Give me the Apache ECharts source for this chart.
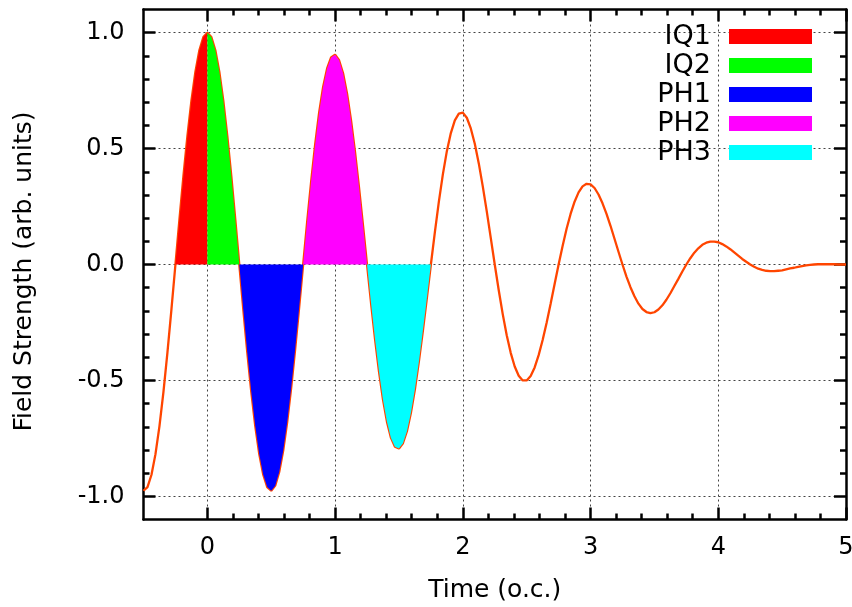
<!DOCTYPE html>
<html><head><meta charset="utf-8">
<script src="https://cdn.jsdelivr.net/npm/echarts@6/dist/echarts.min.js"></script>
<style>html,body{margin:0;padding:0;background:#fff}#c{width:852px;height:607px}</style>
</head><body><div id="c"></div>
<script>
// Time samples (optical cycles)
const timeOC = [
  -0.5, -0.46875, -0.4375, -0.40625, -0.375, -0.34375, -0.3125, -0.28125, -0.25, -0.21875, -0.1875, -0.15625, -0.125, -0.09375, -0.0625, -0.03125,
  0, 0.03125, 0.0625, 0.09375, 0.125, 0.15625, 0.1875, 0.21875, 0.25, 0.28125, 0.3125, 0.34375, 0.375, 0.40625, 0.4375, 0.46875, 0.5, 0.53125, 0.5625, 0.59375, 0.625, 0.65625, 0.6875, 0.71875, 0.75, 0.78125, 0.8125, 0.84375, 0.875, 0.90625, 0.9375, 0.96875,
  1, 1.03125, 1.0625, 1.09375, 1.125, 1.15625, 1.1875, 1.21875, 1.25, 1.28125, 1.3125, 1.34375, 1.375, 1.40625, 1.4375, 1.46875, 1.5, 1.53125, 1.5625, 1.59375, 1.625, 1.65625, 1.6875, 1.71875, 1.75, 1.78125, 1.8125, 1.84375, 1.875, 1.90625, 1.9375, 1.96875,
  2, 2.03125, 2.0625, 2.09375, 2.125, 2.15625, 2.1875, 2.21875, 2.25, 2.28125, 2.3125, 2.34375, 2.375, 2.40625, 2.4375, 2.46875, 2.5, 2.53125, 2.5625, 2.59375, 2.625, 2.65625, 2.6875, 2.71875, 2.75, 2.78125, 2.8125, 2.84375, 2.875, 2.90625, 2.9375, 2.96875,
  3, 3.03125, 3.0625, 3.09375, 3.125, 3.15625, 3.1875, 3.21875, 3.25, 3.28125, 3.3125, 3.34375, 3.375, 3.40625, 3.4375, 3.46875, 3.5, 3.53125, 3.5625, 3.59375, 3.625, 3.65625, 3.6875, 3.71875, 3.75, 3.78125, 3.8125, 3.84375, 3.875, 3.90625, 3.9375, 3.96875,
  4, 4.03125, 4.0625, 4.09375, 4.125, 4.15625, 4.1875, 4.21875, 4.25, 4.28125, 4.3125, 4.34375, 4.375, 4.40625, 4.4375, 4.46875, 4.5, 4.53125, 4.5625, 4.59375, 4.625, 4.65625, 4.6875, 4.71875, 4.75, 4.78125, 4.8125, 4.84375, 4.875, 4.90625, 4.9375, 4.96875,
  5];
// Field strength (arb. units)
const fieldStrength = [
  -0.976, -0.960, -0.907, -0.818, -0.697, -0.549, -0.379, -0.194, 0, 0.194, 0.381, 0.554, 0.706, 0.831, 0.924, 0.981,
  1.0, 0.981, 0.924, 0.831, 0.706, 0.554, 0.381, 0.194, 0, -0.194, -0.379, -0.549, -0.697, -0.818, -0.907, -0.960, -0.976, -0.954, -0.895, -0.803, -0.680, -0.532, -0.365, -0.185, 0, 0.184, 0.358, 0.517, 0.655, 0.766, 0.846, 0.893,
  0.905, 0.881, 0.825, 0.737, 0.622, 0.485, 0.332, 0.168, 0, -0.165, -0.321, -0.462, -0.583, -0.679, -0.748, -0.786, -0.794, -0.771, -0.719, -0.640, -0.538, -0.418, -0.285, -0.144, 0, 0.140, 0.271, 0.389, 0.489, 0.567, 0.622, 0.651,
  0.655, 0.633, 0.587, 0.521, 0.436, 0.337, 0.229, 0.115, 0, -0.111, -0.214, -0.305, -0.381, -0.440, -0.480, -0.500, -0.500, -0.481, -0.444, -0.391, -0.326, -0.251, -0.169, -0.084, 0, 0.080, 0.154, 0.218, 0.271, 0.311, 0.337, 0.348,
  0.346, 0.330, 0.302, 0.264, 0.218, 0.167, 0.111, 0.055, 0, -0.052, -0.098, -0.137, -0.169, -0.192, -0.205, -0.210, -0.206, -0.194, -0.176, -0.152, -0.124, -0.093, -0.062, -0.030, 0, 0.027, 0.051, 0.070, 0.085, 0.094, 0.099, 0.099,
  0.096, 0.088, 0.078, 0.066, 0.052, 0.038, 0.024, 0.012, 0, -0.010, -0.018, -0.023, -0.027, -0.029, -0.029, -0.027, -0.025, -0.021, -0.017, -0.014, -0.010, -0.007, -0.004, -0.002, 0, 0.001, 0.001, 0.001, 0.001, 0.001, 0, 0,
  0];

const regionNames = ['IQ1', 'IQ2', 'PH1', 'PH2', 'PH3'];
const regionStart = [-0.25, 0, 0.25, 0.75, 1.25];
const regionEnd = [0, 0.25, 0.75, 1.25, 1.75];
const regionColors = ['#ff0000', '#00ff00', '#0000ff', '#ff00ff', '#00ffff'];

const xMajorTicks = [0, 1, 2, 3, 4, 5];
const xMinorTicks = [0.2, 0.4, 0.6, 0.8, 1.2, 1.4, 1.6, 1.8, 2.2, 2.4, 2.6, 2.8, 3.2, 3.4, 3.6, 3.8, 4.2, 4.4, 4.6, 4.8];
const yMajorTicks = [-1, -0.5, 0, 0.5, 1];
const yMinorTicks = [-0.9, -0.8, -0.7, -0.6, -0.4, -0.3, -0.2, -0.1, 0.1, 0.2, 0.3, 0.4, 0.6, 0.7, 0.8, 0.9];

const FONT = 'DejaVu Sans';
const curveData = timeOC.map((t, i) => [t, fieldStrength[i]]);

const fillSeries = regionNames.map((name, r) => ({
  type: 'line', name: name, smooth: false, showSymbol: false, silent: true, z: 3,
  color: regionColors[r],
  itemStyle: { color: regionColors[r], borderWidth: 0 },
  lineStyle: { width: 0 },
  areaStyle: { color: regionColors[r], opacity: 1 },
  data: curveData.filter(p => p[0] >= regionStart[r] - 1e-9 && p[0] <= regionEnd[r] + 1e-9)
}));

function xAx(pos, ticks, len, major, label) {
  return {
    type: 'value', position: pos, min: -0.5, max: 5,
    axisLine: { show: major, onZero: false, lineStyle: { color: '#000', width: 2.5 } },
    axisTick: { show: true, inside: true, length: len, customValues: ticks, lineStyle: { color: '#000', width: 2.5 } },
    axisLabel: label ? { show: true, customValues: ticks, margin: 16, fontSize: 24, fontFamily: FONT, color: '#000', formatter: v => String(v) } : { show: false },
    splitLine: label ? { show: true, lineStyle: { color: '#444', width: 1, type: [2, 3] } } : { show: false },
    name: label ? 'Time (o.c.)' : '', nameLocation: 'middle', nameGap: 58,
    nameTextStyle: { fontSize: 25, fontFamily: FONT, color: '#000' }
  };
}
function yAx(pos, ticks, len, major, label) {
  return {
    type: 'value', position: pos, min: -1.1, max: 1.1,
    axisLine: { show: major, onZero: false, lineStyle: { color: '#000', width: 2.5 } },
    axisTick: { show: true, inside: true, length: len, customValues: ticks, lineStyle: { color: '#000', width: 2.5 } },
    axisLabel: label ? { show: true, customValues: ticks, margin: 19, fontSize: 24, fontFamily: FONT, color: '#000', formatter: v => v.toFixed(1) } : { show: false },
    splitLine: label ? { show: true, lineStyle: { color: '#444', width: 1, type: [2, 3] } } : { show: false },
    name: label ? 'Field Strength (arb. units)' : '', nameLocation: 'middle', nameGap: 107,
    nameTextStyle: { fontSize: 25, fontFamily: FONT, color: '#000', padding: [0, 14, 0, 0] }
  };
}

const chart = echarts.init(document.getElementById('c'), null, { renderer: 'canvas' });
chart.setOption({
  animation: false,
  backgroundColor: '#fff',
  grid: { left: 143.5, right: 6, top: 9.5, bottom: 87.5, outerBoundsMode: 'none', containLabel: false },
  legend: {
    data: regionNames, orient: 'vertical', right: 40, top: 23, padding: 0, itemGap: 2,
    itemWidth: 83, itemHeight: 15, align: 'right', icon: 'rect', selectedMode: false,
    itemStyle: { borderWidth: 0 },
    textStyle: { fontFamily: FONT, fontSize: 27, color: '#000', padding: [0, 13, 0, 0] }
  },
  xAxis: [
    xAx('bottom', xMajorTicks, 12, true, true),
    xAx('bottom', xMinorTicks, 6, false, false),
    xAx('top', xMajorTicks, 12, true, false),
    xAx('top', xMinorTicks, 6, false, false)
  ],
  yAxis: [
    yAx('left', yMajorTicks, 12, true, true),
    yAx('left', yMinorTicks, 6, false, false),
    yAx('right', yMajorTicks, 12, true, false),
    yAx('right', yMinorTicks, 6, false, false)
  ],
  series: [
    { type: 'line', name: 'field', smooth: false, showSymbol: false, silent: true, z: 2,
      lineStyle: { color: '#ff4500', width: 2.3 }, itemStyle: { color: '#ff4500' }, data: curveData }
  ].concat(fillSeries)
});
</script></body></html>
